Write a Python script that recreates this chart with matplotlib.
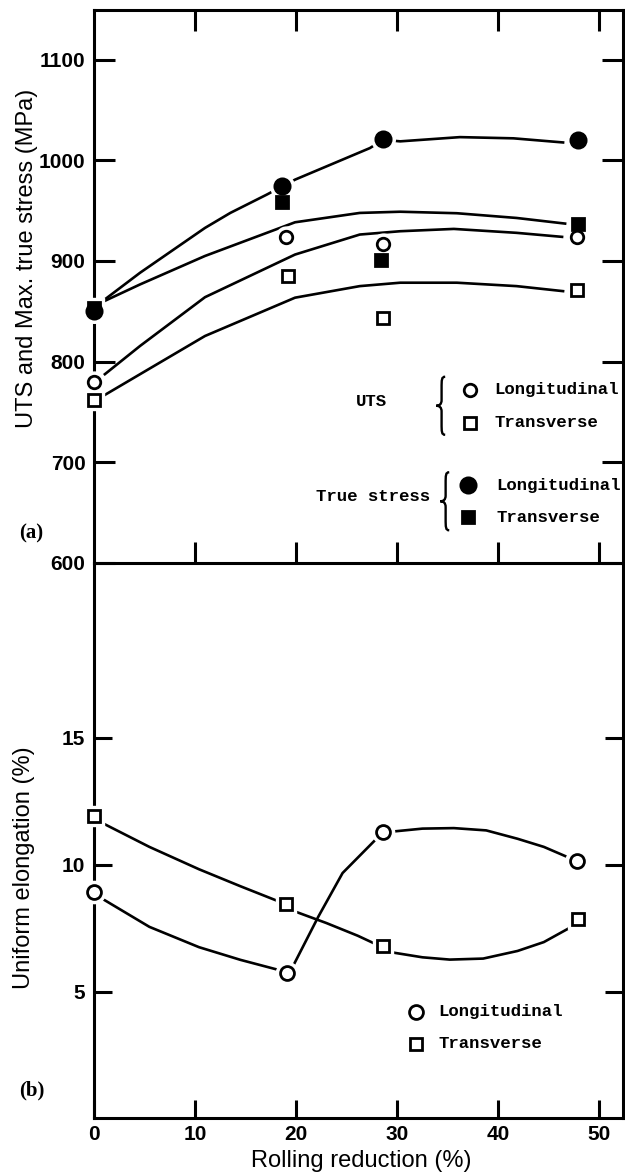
import numpy as np
import matplotlib
matplotlib.use('Agg')
import matplotlib.pyplot as plt
from matplotlib.path import Path
from matplotlib.patches import PathPatch
from matplotlib.transforms import Affine2D, ScaledTranslation

## rolling reduction (%) of the markers
uts_long_x = [0, 19.0, 28.6, 47.8]
uts_long_y = [780, 924, 917, 924]
uts_trans_x = [0, 19.2, 28.6, 47.8]
uts_trans_y = [761.5, 885, 843.5, 871]
true_long_x = [0, 18.6, 28.6, 47.9]
true_long_y = [850, 975, 1021, 1020]
true_trans_x = [0, 18.6, 28.4, 47.9]
true_trans_y = [853, 959, 901, 937]

## hand drawn fit curves
true_long_cx = [0.6, 4.58, 11.0, 13.5, 17.1, 19.9, 27.3, 28.6, 30.3, 36.2, 41.5, 46.4]
true_long_cy = [858, 888.3, 932.9, 947.8, 966, 980.9, 1012.3, 1020.5, 1019, 1023.2, 1022, 1017.9]
true_trans_cx = [0.6, 4.58, 11.0, 19.9, 26.3, 30.3, 35.9, 41.8, 46.6]
true_trans_cy = [858, 876.7, 905, 938.5, 947.8, 949, 947.5, 942.8, 937.2]
uts_long_cx = [1.1, 4.58, 11.0, 19.9, 26.3, 30.3, 35.6, 41.8, 46.3]
uts_long_cy = [787.4, 815.5, 864, 906.4, 926.3, 929.6, 931.9, 928, 924]
uts_trans_cx = [0.95, 4.58, 11.0, 19.9, 26.3, 30.3, 35.9, 41.8, 46.4]
uts_trans_cy = [765.9, 787.4, 825.4, 863.5, 875, 878.4, 878.4, 875, 870]

## uniform elongation (%)
el_long_x = [0, 19.1, 28.6, 47.8]
el_long_y = [8.92, 5.74, 11.27, 10.15]
el_trans_x = [0, 19.0, 28.6, 47.9]
el_trans_y = [11.91, 8.44, 6.80, 7.87]
el_long_cx = [1.0, 5.5, 10.4, 14.5, 18.3, 19.8, 22.2, 24.6, 27.9, 29.7, 32.5, 35.6, 38.8, 41.9, 44.5, 46.6]
el_long_cy = [8.62, 7.55, 6.75, 6.25, 5.85, 6.08, 7.95, 9.67, 11.0, 11.31, 11.42, 11.44, 11.35, 11.02, 10.7, 10.34]
el_trans_cx = [1.0, 5.5, 10.4, 14.5, 18.3, 19.8, 23.0, 26.1, 29.7, 32.5, 35.2, 38.5, 41.9, 44.5, 47.0]
el_trans_cy = [11.61, 10.7, 9.82, 9.15, 8.55, 8.17, 7.7, 7.2, 6.53, 6.35, 6.26, 6.3, 6.6, 6.95, 7.5]

stress_ticks = [600, 700, 800, 900, 1000, 1100]
elong_ticks = [5, 10, 15]
red_ticks = [0, 10, 20, 30, 40, 50]

TICK_FONT = ['Liberation Sans', 'DejaVu Sans']
MONO = ['Liberation Mono', 'DejaVu Sans Mono']
LW = 1.9

fig = plt.figure(figsize=(6.25, 11.76), dpi=100)
ax2 = fig.add_axes([0.150, 0.0489, 0.8464, 0.4727])
ax1 = fig.add_axes([0.150, 0.5216, 0.8464, 0.4702])
ax1.set_facecolor('none')
ax2.set_facecolor('none')


def marks(ax, x, y, marker, filled, ms):
    ## white halo first so the curves stop short of the symbols
    ax.plot(x, y, ls='none', marker=marker, ms=ms + 6, mfc='white', mec='white',
            zorder=3, clip_on=False)
    ax.plot(x, y, ls='none', marker=marker, ms=ms, mfc='black' if filled else 'white',
            mec='black', mew=2.0, zorder=4, clip_on=False)


def brace(ax, x, y, height_in):
    ## thin left curly brace, drawn in inches around a data point
    verts = [(1, 1), (0.2, 1), (0.2, 0.9), (0.2, 0.6), (0.2, 0.2),
             (0.2, 0.05), (-0.3, 0), (-1, 0),
             (-0.3, 0), (0.2, -0.05), (0.2, -0.2), (0.2, -0.6),
             (0.2, -0.9), (0.2, -1), (1, -1)]
    codes = [Path.MOVETO, Path.CURVE4, Path.CURVE4, Path.CURVE4, Path.LINETO,
             Path.CURVE4, Path.CURVE4, Path.CURVE4,
             Path.CURVE4, Path.CURVE4, Path.CURVE4, Path.LINETO,
             Path.CURVE4, Path.CURVE4, Path.CURVE4]
    tr = (Affine2D().scale(0.045, height_in / 2) + fig.dpi_scale_trans
          + ScaledTranslation(x, y, ax.transData))
    ax.add_patch(PathPatch(Path(verts, codes), fc='none', ec='black', lw=1.7,
                           transform=tr, clip_on=False))


def style(ax):
    for s in ax.spines.values():
        s.set_linewidth(2.2)
    ax.tick_params(direction='in', length=15, width=2.2, top=True, right=True,
                   pad=6, labelsize=15)
    for lab in ax.get_xticklabels() + ax.get_yticklabels():
        lab.set_family(TICK_FONT)
        lab.set_fontweight('bold')


## (a) strength
for cx, cy in [(true_long_cx, true_long_cy), (true_trans_cx, true_trans_cy),
               (uts_long_cx, uts_long_cy), (uts_trans_cx, uts_trans_cy)]:
    ax1.plot(cx, cy, color='black', lw=LW, zorder=2)
marks(ax1, uts_long_x, uts_long_y, 'o', False, 9)
marks(ax1, uts_trans_x, uts_trans_y, 's', False, 8.5)
marks(ax1, true_long_x, true_long_y, 'o', True, 11)
marks(ax1, true_trans_x, true_trans_y, 's', True, 9)

ax1.set_xlim(0, 52.3)
ax1.set_ylim(600, 1150)
ax1.set_xticks(red_ticks[1:])
ax1.set_yticks(stress_ticks)
ax1.tick_params(axis='x', labelbottom=False)
style(ax1)
ax1.set_ylabel('UTS and Max. true stress (MPa)', fontsize=17, family='Liberation Sans')
ax1.yaxis.set_label_coords(-0.105, 0.551)

## legend of (a)
ax1.text(29.0, 760, 'UTS', family=MONO, fontweight='bold', fontsize=12.5, ha='right', va='center')
brace(ax1, 34.3, 756, 0.58)
marks(ax1, [37.2], [772], 'o', False, 9)
marks(ax1, [37.2], [739], 's', False, 8.5)
ax1.text(39.6, 772, 'Longitudinal', family=MONO, fontweight='bold', fontsize=12.5, va='center')
ax1.text(39.6, 739, 'Transverse', family=MONO, fontweight='bold', fontsize=12.5, va='center')
ax1.text(33.3, 666, 'True stress', family=MONO, fontweight='bold', fontsize=12.5, ha='right', va='center')
brace(ax1, 34.7, 661, 0.58)
marks(ax1, [37.0], [677], 'o', True, 11)
marks(ax1, [37.0], [645], 's', True, 9)
ax1.text(39.8, 677, 'Longitudinal', family=MONO, fontweight='bold', fontsize=12.5, va='center')
ax1.text(39.8, 645, 'Transverse', family=MONO, fontweight='bold', fontsize=12.5, va='center')

## (b) elongation
ax2.plot(el_long_cx, el_long_cy, color='black', lw=LW, zorder=2)
ax2.plot(el_trans_cx, el_trans_cy, color='black', lw=LW, zorder=2)
marks(ax2, el_long_x, el_long_y, 'o', False, 10)
marks(ax2, el_trans_x, el_trans_y, 's', False, 9)

ax2.set_xlim(0, 52.3)
ax2.set_ylim(0, 21.9)
ax2.set_xticks(red_ticks)
ax2.set_yticks(elong_ticks)
style(ax2)
ax2.tick_params(top=False, length=13)
ax2.tick_params(axis='x', pad=5)
ax2.spines['top'].set_visible(False)
ax2.set_ylabel('Uniform elongation (%)', fontsize=17, family='Liberation Sans')
ax2.yaxis.set_label_coords(-0.111, 0.451)
ax2.set_xlabel('Rolling reduction (%)', fontsize=17, family='Liberation Sans')
ax2.xaxis.set_label_coords(0.505, -0.056)

marks(ax2, [31.9], [4.21], 'o', False, 10)
marks(ax2, [31.9], [2.94], 's', False, 9)
ax2.text(34.1, 4.21, 'Longitudinal', family=MONO, fontweight='bold', fontsize=12.5, va='center')
ax2.text(34.1, 2.94, 'Transverse', family=MONO, fontweight='bold', fontsize=12.5, va='center')

fig.text(0.0505, 0.546, '(a)', family='Liberation Serif', fontweight='bold', fontsize=15,
         ha='center', va='center')
fig.text(0.0505, 0.073, '(b)', family='Liberation Serif', fontweight='bold', fontsize=15,
         ha='center', va='center')

fig.savefig('out.png', dpi=100)
